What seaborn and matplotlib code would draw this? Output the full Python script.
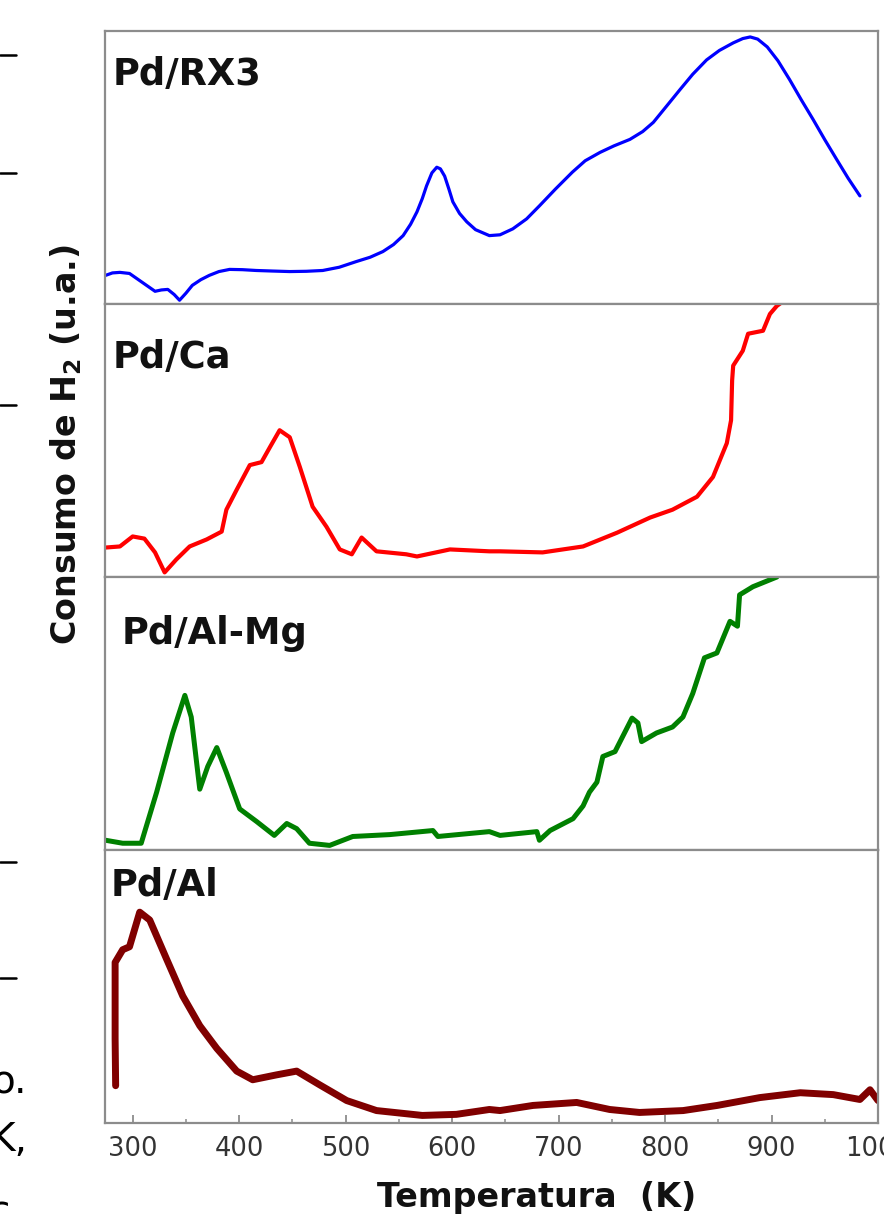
import numpy as np
import pandas as pd
import matplotlib
matplotlib.use("Agg")
import matplotlib.pyplot as plt
from matplotlib.ticker import MultipleLocator
import seaborn as sns

# ---------------- data (relative H2 consumption, each panel normalised 0-1) -------------
rx3_T = [274.6, 281, 288, 297, 309, 321, 327, 333, 339, 344, 350, 356, 364, 372, 381, 391,
         403, 416, 431, 447.5, 463, 478.5, 494, 510, 523, 535, 545, 554, 561, 567, 572, 576,
         581, 585.6, 589, 593, 597, 600.7, 607, 613.8, 622, 635, 645, 657, 670, 682, 697,
         713, 725, 739, 752, 767, 779, 789, 801, 814, 826, 839, 851, 864, 873, 880, 887, 896,
         906, 917, 928, 939, 950, 961, 972, 983]
rx3_y = [0.096, 0.105, 0.107, 0.103, 0.070, 0.037, 0.042, 0.044, 0.025, 0.004, 0.030, 0.059,
         0.080, 0.096, 0.110, 0.118, 0.117, 0.114, 0.112, 0.110, 0.111, 0.114, 0.126, 0.147,
         0.163, 0.184, 0.210, 0.243, 0.285, 0.331, 0.380, 0.427, 0.475, 0.496, 0.490, 0.463,
         0.415, 0.368, 0.325, 0.294, 0.265, 0.243, 0.246, 0.268, 0.305, 0.353, 0.415, 0.478,
         0.520, 0.551, 0.575, 0.599, 0.628, 0.662, 0.720, 0.783, 0.840, 0.893, 0.928, 0.956,
         0.972, 0.978, 0.970, 0.941, 0.890, 0.820, 0.745, 0.673, 0.598, 0.526, 0.455, 0.390]

ca_T = [274.6, 288, 300, 311, 321, 330, 341, 353.5, 369.5, 383.6, 388, 397.7, 410, 421, 429,
        438, 447.5, 457, 469, 482, 494.5, 505.8, 515, 529, 557, 567, 598, 635, 645, 685, 723,
        755, 786, 807, 830, 845, 858, 862, 863, 864, 873, 878, 892, 898.5, 905, 911]
ca_y = [0.099, 0.103, 0.140, 0.132, 0.081, 0.007, 0.055, 0.103, 0.129, 0.158, 0.239, 0.313,
        0.404, 0.415, 0.471, 0.533, 0.507, 0.397, 0.250, 0.176, 0.092, 0.074, 0.136, 0.085,
        0.074, 0.066, 0.092, 0.085, 0.085, 0.081, 0.103, 0.154, 0.210, 0.239, 0.287, 0.360,
        0.485, 0.570, 0.717, 0.772, 0.827, 0.890, 0.901, 0.963, 0.993, 1.01]

almg_T = [274.6, 290.6, 308, 322.5, 337.6, 349, 355, 363, 370.5, 379, 388, 400.5, 416.5, 433,
          444.7, 454, 466, 485, 506.7, 541.5, 582, 586.6, 635, 645, 679.6, 682, 692, 713.6,
          723, 729, 736, 741.6, 753, 769, 774.5, 778, 792, 807, 816.8, 826, 837, 848.7, 861,
          868, 870, 882.5, 905]
almg_y = [0.026, 0.015, 0.015, 0.204, 0.423, 0.562, 0.482, 0.215, 0.299, 0.369, 0.277, 0.142,
          0.095, 0.044, 0.088, 0.069, 0.015, 0.007, 0.040, 0.047, 0.062, 0.040, 0.058, 0.044,
          0.058, 0.026, 0.062, 0.106, 0.153, 0.204, 0.241, 0.336, 0.354, 0.478, 0.460, 0.391,
          0.423, 0.445, 0.482, 0.569, 0.701, 0.719, 0.836, 0.818, 0.934, 0.964, 1.0]

al_T = [284, 283.5, 283.5, 290.6, 297, 306.6, 316, 332, 347, 363, 379, 397.7, 412.7, 435,
        454, 475.7, 501, 529, 572, 604, 635, 645, 676, 717, 748, 776, 817, 849, 889, 927,
        958, 983, 992.5, 1000]
al_y = [0.128, 0.303, 0.584, 0.631, 0.642, 0.770, 0.741, 0.595, 0.460, 0.350, 0.266, 0.182,
        0.150, 0.168, 0.182, 0.131, 0.073, 0.036, 0.018, 0.022, 0.040, 0.036, 0.055, 0.066,
        0.040, 0.029, 0.036, 0.055, 0.084, 0.102, 0.095, 0.077, 0.113, 0.073]

panel_names = ["Pd/RX3", "Pd/Ca", "Pd/Al-Mg", "Pd/Al"]
panel_colors = ["#0000ff", "#ff0000", "#008000", "#800000"]
x_ticks = [300, 400, 500, 600, 700, 800, 900, 1000]

series = [(rx3_T, rx3_y), (ca_T, ca_y), (almg_T, almg_y), (al_T, al_y)]
widths = [2.3, 3.0, 3.6, 5.0]
# label placement inside each panel (pixels from panel left / top)
label_dx = [8, 8, 17, 6]
label_dy = [25, 35, 38, 17]

# ---------------- figure ----------------
sns.set_theme(style="white")
plt.rcParams["font.family"] = ["DejaVu Sans"]

fig = plt.figure(figsize=(8.84, 12.14), dpi=100)
gs = fig.add_gridspec(4, 1, left=105 / 884, right=878 / 884,
                      top=1 - 31 / 1214, bottom=1 - 1123 / 1214, hspace=0)
axes = [fig.add_subplot(gs[i]) for i in range(4)]
panel_w, panel_h = 773.0, 273.0

spine_col = "#8c8c8c"
for i, ax in enumerate(axes):
    T, y = series[i]
    df = pd.DataFrame({"T": T, "y": y})
    sns.lineplot(data=df, x="T", y="y", ax=ax, color=panel_colors[i],
                 linewidth=widths[i], sort=False, estimator=None, legend=False)
    for ln in ax.lines:
        ln.set_solid_joinstyle("round")
        ln.set_solid_capstyle("round")
    ax.set_xlim(274, 1000)
    ax.set_ylim(-0.01, 1.0)
    ax.set_yticks([])
    ax.set_xlabel("")
    ax.set_ylabel("")
    for s in ax.spines.values():
        s.set_color(spine_col)
        s.set_linewidth(1.6)
    ax.text(label_dx[i] / panel_w, 1 - label_dy[i] / panel_h, panel_names[i],
            transform=ax.transAxes, ha="left", va="top",
            fontsize=26.5, fontweight="bold", color="#111111")
    if i < 3:
        ax.set_xticks([])
    else:
        ax.set_xticks(x_ticks)
        ax.set_xticklabels([str(t) for t in x_ticks])
        ax.xaxis.set_minor_locator(MultipleLocator(50))
        ax.tick_params(axis="x", which="major", direction="in", length=6, width=1.3,
                       color=spine_col, labelsize=18.5, labelcolor="#333333", pad=9,
                       bottom=True)
        ax.tick_params(axis="x", which="minor", direction="in", length=3, width=1.1,
                       color=spine_col, bottom=True)

fig.text(537 / 884, 1 - 1197 / 1214, "Temperatura  (K)", ha="center", va="center",
         fontsize=24, fontweight="bold", color="#111111")
fig.text(66 / 884, 1 - 445 / 1214, r"Consumo de H$_\mathbf{2}$ (u.a.)", rotation=90,
         ha="center", va="center", fontsize=24, fontweight="bold", color="#111111")

# cropped fragments of the surrounding page at the left edge
for yy in [55, 173, 405, 862, 978]:
    fig.add_artist(plt.Line2D([0, 16 / 884], [1 - yy / 1214, 1 - yy / 1214],
                              color="black", linewidth=1.8, transform=fig.transFigure))
fig.text(27 / 884, 1 - 1083 / 1214, "o.", ha="right", va="center", fontsize=28, color="black")
fig.text(27 / 884, 1 - 1140 / 1214, "K,", ha="right", va="center", fontsize=28, color="black")
fig.text(10 / 884, 1 - 1212 / 1214, "c", ha="right", va="center", fontsize=28, color="black")

fig.savefig("out.png", dpi=100, facecolor="white")
